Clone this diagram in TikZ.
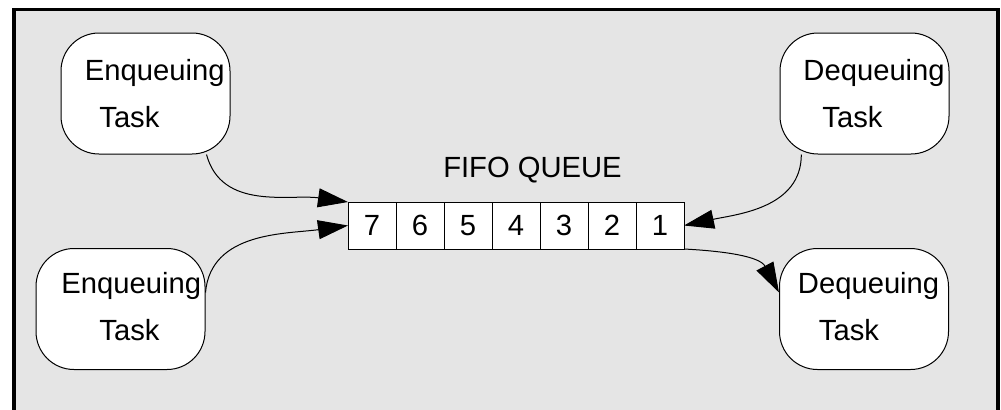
\documentclass[tikz,border=0pt]{standalone}
\usepackage{fontspec}
\setmainfont{Liberation Sans}
\usepackage{xcolor}
\usepackage{tikz}
\usetikzlibrary{arrows.meta, positioning}

\definecolor{panelgray}{RGB}{229,229,229}

\begin{document}
\begin{tikzpicture}[
    x=0.5pt, y=0.5pt,
    font=\fontsize{14.6}{23.5}\selectfont,
    >={Triangle[length=15pt, width=9.5pt]},
    task/.style={rectangle, rounded corners=19pt, draw=black, fill=white, line width=0.5pt, minimum width=84.5pt, minimum height=60.5pt, align=left, inner sep=0pt},
    cell/.style={rectangle, draw=black, fill=white, line width=0.5pt, minimum width=24pt, minimum height=23.5pt, inner sep=0pt, outer sep=0pt},
    arrow/.style={->, draw=black, line width=0.5pt}
]

% Frame
\useasboundingbox (0,0) rectangle (1001,409);
\clip (0,0) rectangle (1001,409);
\draw [line width=1.75pt, fill=panelgray] (14,399.5) rectangle (998,-21);

% Tasks
\node (enq1) [task] at (145.5,315.5) {\hspace*{9.3pt}Enqueuing\\\hspace*{16.5pt}Task};
\node (enq2) [task, text depth=3pt] at (120.5,100) {\hspace*{10.8pt}Enqueuing\\\hspace*{29.8pt}Task};
\node (deq1) [task] at (864.5,315.5) {\hspace*{9.6pt}Dequeuing\\\hspace*{19.1pt}Task};
\node (deq2) [task, text depth=3pt] at (864,100) {\hspace*{4.6pt}Dequeuing\\\hspace*{15.1pt}Task};

% Queue
\node (q7) [cell] at (372,183.5) {7};
\foreach \n [evaluate=\n as \p using {int(\n+1)}] in {6,5,...,1}
    \node (q\n) [cell, right=0pt of q\p] {\n};
\node (title) [above=12.5pt of q4.north, anchor=base, xshift=8.25pt] {FIFO QUEUE};

% Paths
\draw [arrow] (enq1.-45) to[out=-75, in=172] (q7.north west);
\draw [arrow] (enq2.11) to[out=85, in=188] (q7.west);
\draw [arrow] (deq1.-136) to[out=-90, in=12] (q1.east);
\draw [arrow] (q1.south east) to[out=-3, in=118] (deq2.169);

\end{tikzpicture}
\end{document}
